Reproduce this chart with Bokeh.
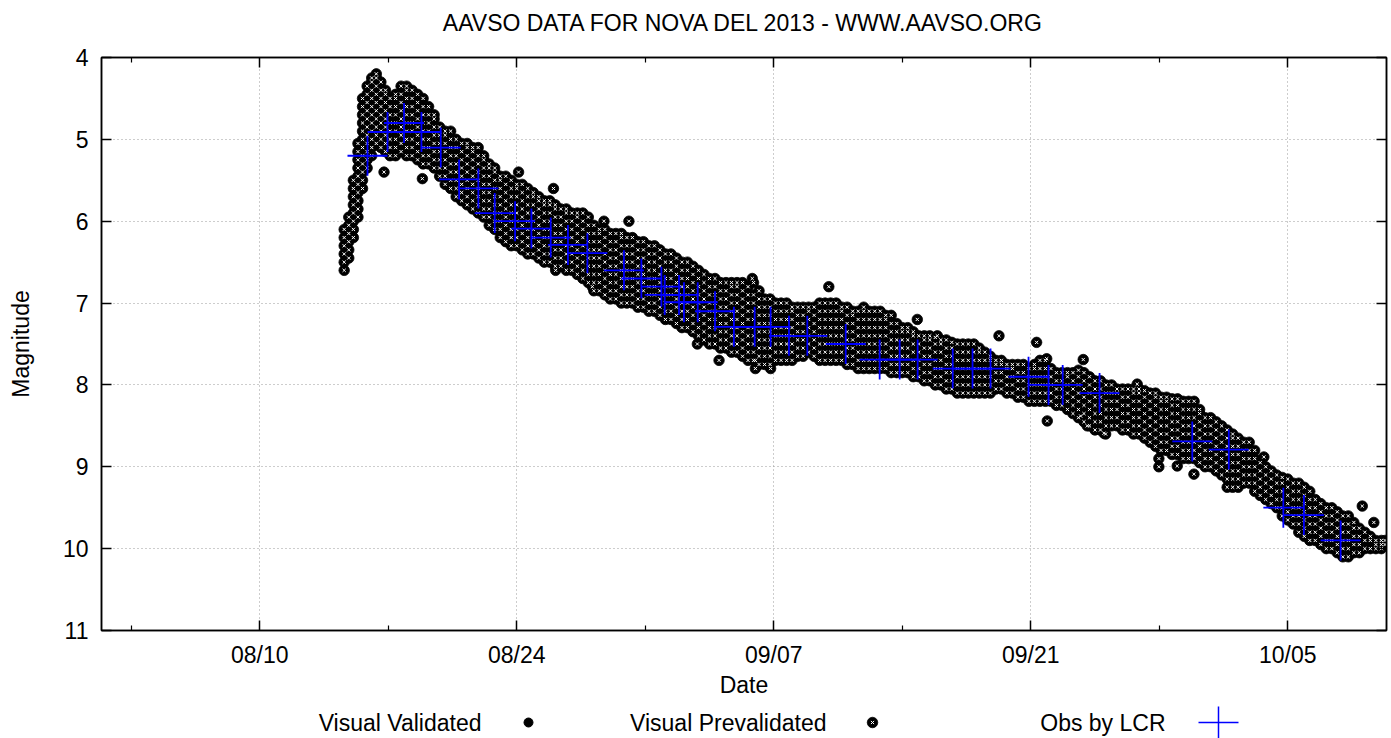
from datetime import datetime, timedelta
import numpy as np
from bokeh.plotting import figure
from bokeh.models import (Range1d, FixedTicker, DatetimeTickFormatter, LinearAxis,
                          DatetimeAxis, ColumnDataSource, CustomJSTickFormatter)
from bokeh.layouts import column
from bokeh.embed import file_html
from bokeh.resources import INLINE
from bokeh.core.properties import value

TITLE = "AAVSO DATA FOR NOVA DEL 2013 - WWW.AAVSO.ORG"
X_LABEL = "Date"
Y_LABEL = "Magnitude"
LEGEND_LABELS = ["Visual Validated", "Visual Prevalidated", "Obs by LCR"]

# Times are "day of August 2013" (Aug 10 00:00 UT = 10.0, Sep 1 = 32.0, Oct 1 = 62.0)
x_tick_days = [10, 24, 38, 52, 66]          # 08/10 08/24 09/07 09/21 10/05
x_minor_days = [3, 17, 31, 45, 59]
y_ticks = [4, 5, 6, 7, 8, 9, 10, 11]
x_view = [1.38, 71.38]
y_view = [11, 4]

# Visual Validated (no points visible in the chart)
vv_day = []
vv_mag = []

# Visual Prevalidated: nightly stacks of estimates
vp_day = [14.6, 14.85, 15.1, 15.35, 15.6, 15.85, 16.1, 16.35, 16.6, 16.85, 17.1, 17.4, 17.7, 18.0,
          18.3, 18.6, 18.9, 19.2, 19.5, 19.8, 20.1, 20.4, 20.7, 21.0, 21.3, 21.6, 21.9, 22.2,
          22.5, 22.8, 23.1, 23.4, 23.7, 24.0, 24.3, 24.6, 24.9, 25.2, 25.5, 25.8, 26.1, 26.4,
          26.7, 27.0, 27.3, 27.6, 27.9, 28.2, 28.5, 28.8, 29.1, 29.4, 29.7, 30.0, 30.3, 30.6,
          30.9, 31.2, 31.5, 31.8, 32.1, 32.4, 32.7, 33.0, 33.3, 33.6, 33.9, 34.2, 34.5, 34.8,
          35.1, 35.4, 35.7, 36.0, 36.3, 36.6, 36.9, 37.2, 37.5, 37.8, 38.1, 38.4, 38.7, 39.0,
          39.3, 39.6, 39.9, 40.2, 40.5, 40.8, 41.1, 41.4, 41.7, 42.0, 42.3, 42.6, 42.9, 43.2,
          43.5, 43.8, 44.1, 44.4, 44.7, 45.0, 45.3, 45.6, 45.9, 46.2, 46.5, 46.8, 47.1, 47.4,
          47.7, 48.0, 48.3, 48.6, 48.9, 49.2, 49.5, 49.8, 50.1, 50.4, 50.7, 51.0, 51.3, 51.6,
          51.9, 52.2, 52.5, 52.8, 53.1, 53.4, 53.7, 54.0, 54.3, 54.6, 54.9, 55.2, 55.5, 55.8,
          56.1, 56.4, 56.7, 57.0, 57.3, 57.6, 57.9, 58.2, 58.5, 58.8, 59.1, 59.4, 59.7, 60.0,
          60.3, 60.6, 60.9, 61.2, 61.5, 61.8, 62.1, 62.4, 62.7, 63.0, 63.3, 63.6, 63.9, 64.2,
          64.5, 64.8, 65.1, 65.4, 65.7, 66.0, 66.3, 66.6, 66.9, 67.2, 67.5, 67.8, 68.1, 68.4,
          68.7, 69.0, 69.3, 69.6, 69.9, 70.2, 70.5, 70.8, 71.1, 71.3]
vp_mag = [
    [6.6, 6.5, 6.4, 6.3, 6.2, 6.1],
    [6.45, 6.35, 6.25, 6.15, 6.05, 5.95],
    [6.2, 6.1, 6.0, 5.9, 5.8, 5.7, 5.6, 5.5],
    [5.95, 5.85, 5.75, 5.65, 5.55, 5.45, 5.35, 5.25, 5.15, 5.05],
    [5.6, 5.5, 5.4, 5.3, 5.2, 5.1, 5.0, 4.9, 4.8, 4.7, 4.6, 4.5],
    [5.35, 5.25, 5.15, 5.05, 4.95, 4.85, 4.75, 4.65, 4.55, 4.45, 4.35],
    [5.2, 5.1, 5.0, 4.9, 4.8, 4.7, 4.6, 4.5, 4.4, 4.3, 4.25],
    [5.05, 4.95, 4.85, 4.75, 4.65, 4.55, 4.45, 4.35, 4.25, 4.2],
    [5.1, 5.0, 4.9, 4.8, 4.7, 4.6, 4.5, 4.4, 4.3],
    [5.15, 5.05, 4.95, 4.85, 4.75, 4.65, 4.55, 4.45, 4.4],
    [5.2, 5.1, 5.0, 4.9, 4.8, 4.7, 4.6, 4.5],
    [5.2, 5.1, 5.0, 4.9, 4.8, 4.7, 4.6, 4.5, 4.45],
    [5.15, 5.05, 4.95, 4.85, 4.75, 4.65, 4.55, 4.45, 4.35],
    [5.2, 5.1, 5.0, 4.9, 4.8, 4.7, 4.6, 4.5, 4.4, 4.35],
    [5.2, 5.1, 5.0, 4.9, 4.8, 4.7, 4.6, 4.5, 4.4],
    [5.25, 5.15, 5.05, 4.95, 4.85, 4.75, 4.65, 4.55, 4.45],
    [5.3, 5.2, 5.1, 5.0, 4.9, 4.8, 4.7, 4.6, 4.5],
    [5.3, 5.2, 5.1, 5.0, 4.9, 4.8, 4.7, 4.6],
    [5.35, 5.25, 5.15, 5.05, 4.95, 4.85, 4.75, 4.7],
    [5.45, 5.35, 5.25, 5.15, 5.05, 4.95, 4.85],
    [5.55, 5.45, 5.35, 5.25, 5.15, 5.05, 4.95, 4.9],
    [5.6, 5.5, 5.4, 5.3, 5.2, 5.1, 5.0, 4.9],
    [5.7, 5.6, 5.5, 5.4, 5.3, 5.2, 5.1, 5.0],
    [5.75, 5.65, 5.55, 5.45, 5.35, 5.25, 5.15, 5.05],
    [5.8, 5.7, 5.6, 5.5, 5.4, 5.3, 5.2, 5.1, 5.05],
    [5.85, 5.75, 5.65, 5.55, 5.45, 5.35, 5.25, 5.15, 5.1],
    [5.9, 5.8, 5.7, 5.6, 5.5, 5.4, 5.3, 5.2, 5.1],
    [5.95, 5.85, 5.75, 5.65, 5.55, 5.45, 5.35, 5.25, 5.2],
    [6.05, 5.95, 5.85, 5.75, 5.65, 5.55, 5.45, 5.35, 5.3],
    [6.1, 6.0, 5.9, 5.8, 5.7, 5.6, 5.5, 5.4, 5.35],
    [6.2, 6.1, 6.0, 5.9, 5.8, 5.7, 5.6, 5.5, 5.45],
    [6.25, 6.15, 6.05, 5.95, 5.85, 5.75, 5.65, 5.55, 5.45],
    [6.3, 6.2, 6.1, 6.0, 5.9, 5.8, 5.7, 5.6, 5.5],
    [6.3, 6.2, 6.1, 6.0, 5.9, 5.8, 5.7, 5.6, 5.55],
    [6.35, 6.25, 6.15, 6.05, 5.95, 5.85, 5.75, 5.65, 5.55],
    [6.4, 6.3, 6.2, 6.1, 6.0, 5.9, 5.8, 5.7, 5.6],
    [6.4, 6.3, 6.2, 6.1, 6.0, 5.9, 5.8, 5.7, 5.65],
    [6.45, 6.35, 6.25, 6.15, 6.05, 5.95, 5.85, 5.75, 5.7],
    [6.5, 6.4, 6.3, 6.2, 6.1, 6.0, 5.9, 5.8, 5.75],
    [6.5, 6.4, 6.3, 6.2, 6.1, 6.0, 5.9, 5.8, 5.75],
    [6.55, 6.45, 6.35, 6.25, 6.15, 6.05, 5.95, 5.85, 5.8],
    [6.55, 6.45, 6.35, 6.25, 6.15, 6.05, 5.95, 5.85],
    [6.6, 6.5, 6.4, 6.3, 6.2, 6.1, 6.0, 5.9, 5.85],
    [6.6, 6.5, 6.4, 6.3, 6.2, 6.1, 6.0, 5.9],
    [6.65, 6.55, 6.45, 6.35, 6.25, 6.15, 6.05, 5.95, 5.9],
    [6.7, 6.6, 6.5, 6.4, 6.3, 6.2, 6.1, 6.0, 5.9],
    [6.75, 6.65, 6.55, 6.45, 6.35, 6.25, 6.15, 6.05, 5.95],
    [6.85, 6.75, 6.65, 6.55, 6.45, 6.35, 6.25, 6.15, 6.05],
    [6.85, 6.75, 6.65, 6.55, 6.45, 6.35, 6.25, 6.15, 6.1],
    [6.9, 6.8, 6.7, 6.6, 6.5, 6.4, 6.3, 6.2, 6.1],
    [6.95, 6.85, 6.75, 6.65, 6.55, 6.45, 6.35, 6.25, 6.15],
    [6.95, 6.85, 6.75, 6.65, 6.55, 6.45, 6.35, 6.25, 6.15],
    [7.0, 6.9, 6.8, 6.7, 6.6, 6.5, 6.4, 6.3, 6.2, 6.15],
    [7.0, 6.9, 6.8, 6.7, 6.6, 6.5, 6.4, 6.3, 6.2],
    [7.0, 6.9, 6.8, 6.7, 6.6, 6.5, 6.4, 6.3, 6.2],
    [7.05, 6.95, 6.85, 6.75, 6.65, 6.55, 6.45, 6.35, 6.25],
    [7.05, 6.95, 6.85, 6.75, 6.65, 6.55, 6.45, 6.35, 6.25],
    [7.1, 7.0, 6.9, 6.8, 6.7, 6.6, 6.5, 6.4, 6.3],
    [7.1, 7.0, 6.9, 6.8, 6.7, 6.6, 6.5, 6.4, 6.3],
    [7.15, 7.05, 6.95, 6.85, 6.75, 6.65, 6.55, 6.45, 6.35],
    [7.2, 7.1, 7.0, 6.9, 6.8, 6.7, 6.6, 6.5, 6.4],
    [7.2, 7.1, 7.0, 6.9, 6.8, 6.7, 6.6, 6.5, 6.4],
    [7.25, 7.15, 7.05, 6.95, 6.85, 6.75, 6.65, 6.55, 6.45],
    [7.3, 7.2, 7.1, 7.0, 6.9, 6.8, 6.7, 6.6, 6.5],
    [7.3, 7.2, 7.1, 7.0, 6.9, 6.8, 6.7, 6.6, 6.5],
    [7.35, 7.25, 7.15, 7.05, 6.95, 6.85, 6.75, 6.65, 6.55],
    [7.4, 7.3, 7.2, 7.1, 7.0, 6.9, 6.8, 6.7, 6.6],
    [7.45, 7.35, 7.25, 7.15, 7.05, 6.95, 6.85, 6.75, 6.65],
    [7.5, 7.4, 7.3, 7.2, 7.1, 7.0, 6.9, 6.8, 6.7],
    [7.5, 7.4, 7.3, 7.2, 7.1, 7.0, 6.9, 6.8, 6.7],
    [7.55, 7.45, 7.35, 7.25, 7.15, 7.05, 6.95, 6.85, 6.75],
    [7.55, 7.45, 7.35, 7.25, 7.15, 7.05, 6.95, 6.85, 6.75],
    [7.6, 7.5, 7.4, 7.3, 7.2, 7.1, 7.0, 6.9, 6.8, 6.75],
    [7.6, 7.5, 7.4, 7.3, 7.2, 7.1, 7.0, 6.9, 6.8, 6.75],
    [7.65, 7.55, 7.45, 7.35, 7.25, 7.15, 7.05, 6.95, 6.85, 6.75],
    [7.7, 7.6, 7.5, 7.4, 7.3, 7.2, 7.1, 7.0, 6.9, 6.8],
    [7.7, 7.6, 7.5, 7.4, 7.3, 7.2, 7.1, 7.0, 6.9, 6.75],
    [7.75, 7.65, 7.55, 7.45, 7.35, 7.25, 7.15, 7.05, 6.95, 6.85],
    [7.75, 7.65, 7.55, 7.45, 7.35, 7.25, 7.15, 7.05, 6.95],
    [7.75, 7.65, 7.55, 7.45, 7.35, 7.25, 7.15, 7.05, 6.95],
    [7.7, 7.6, 7.5, 7.4, 7.3, 7.2, 7.1, 7.0],
    [7.7, 7.6, 7.5, 7.4, 7.3, 7.2, 7.1, 7.0],
    [7.7, 7.6, 7.5, 7.4, 7.3, 7.2, 7.1, 7.0],
    [7.7, 7.6, 7.5, 7.4, 7.3, 7.2, 7.1, 7.05],
    [7.65, 7.55, 7.45, 7.35, 7.25, 7.15, 7.05],
    [7.65, 7.55, 7.45, 7.35, 7.25, 7.15, 7.05],
    [7.6, 7.5, 7.4, 7.3, 7.2, 7.1, 7.05],
    [7.65, 7.55, 7.45, 7.35, 7.25, 7.15, 7.05],
    [7.7, 7.6, 7.5, 7.4, 7.3, 7.2, 7.1, 7.0],
    [7.7, 7.6, 7.5, 7.4, 7.3, 7.2, 7.1, 7.0],
    [7.7, 7.6, 7.5, 7.4, 7.3, 7.2, 7.1, 7.0],
    [7.7, 7.6, 7.5, 7.4, 7.3, 7.2, 7.1, 7.0],
    [7.7, 7.6, 7.5, 7.4, 7.3, 7.2, 7.1, 7.05],
    [7.75, 7.65, 7.55, 7.45, 7.35, 7.25, 7.15, 7.05],
    [7.75, 7.65, 7.55, 7.45, 7.35, 7.25, 7.15, 7.1],
    [7.8, 7.7, 7.6, 7.5, 7.4, 7.3, 7.2, 7.1],
    [7.8, 7.7, 7.6, 7.5, 7.4, 7.3, 7.2, 7.1, 7.05],
    [7.8, 7.7, 7.6, 7.5, 7.4, 7.3, 7.2, 7.1],
    [7.8, 7.7, 7.6, 7.5, 7.4, 7.3, 7.2, 7.1],
    [7.8, 7.7, 7.6, 7.5, 7.4, 7.3, 7.2, 7.1],
    [7.8, 7.7, 7.6, 7.5, 7.4, 7.3, 7.2, 7.15],
    [7.85, 7.75, 7.65, 7.55, 7.45, 7.35, 7.25, 7.15],
    [7.85, 7.75, 7.65, 7.55, 7.45, 7.35, 7.25],
    [7.85, 7.75, 7.65, 7.55, 7.45, 7.35, 7.3],
    [7.85, 7.75, 7.65, 7.55, 7.45, 7.35, 7.3],
    [7.9, 7.8, 7.7, 7.6, 7.5, 7.4, 7.35],
    [7.9, 7.8, 7.7, 7.6, 7.5, 7.4],
    [7.95, 7.85, 7.75, 7.65, 7.55, 7.45, 7.4],
    [7.95, 7.85, 7.75, 7.65, 7.55, 7.45, 7.4],
    [8.0, 7.9, 7.8, 7.7, 7.6, 7.5, 7.42],
    [8.0, 7.9, 7.8, 7.7, 7.6, 7.5, 7.45],
    [8.05, 7.95, 7.85, 7.75, 7.65, 7.55, 7.45],
    [8.05, 7.95, 7.85, 7.75, 7.65, 7.55, 7.48],
    [8.1, 8.0, 7.9, 7.8, 7.7, 7.6, 7.5],
    [8.1, 8.0, 7.9, 7.8, 7.7, 7.6, 7.5],
    [8.1, 8.0, 7.9, 7.8, 7.7, 7.6, 7.5],
    [8.1, 8.0, 7.9, 7.8, 7.7, 7.6, 7.5],
    [8.1, 8.0, 7.9, 7.8, 7.7, 7.6, 7.55],
    [8.1, 8.0, 7.9, 7.8, 7.7, 7.6],
    [8.1, 8.0, 7.9, 7.8, 7.7, 7.65],
    [8.05, 7.95, 7.85, 7.75, 7.7],
    [8.05, 7.95, 7.85, 7.75, 7.7],
    [8.1, 8.0, 7.9, 7.8, 7.75],
    [8.1, 8.0, 7.9, 7.8, 7.75],
    [8.15, 8.05, 7.95, 7.85, 7.75],
    [8.15, 8.05, 7.95, 7.85, 7.75],
    [8.2, 8.1, 8.0, 7.9, 7.8],
    [8.2, 8.1, 8.0, 7.9, 7.8, 7.75],
    [8.2, 8.1, 8.0, 7.9, 7.8, 7.7],
    [8.2, 8.1, 8.0, 7.9, 7.8, 7.7],
    [8.2, 8.1, 8.0, 7.9, 7.8],
    [8.25, 8.15, 8.05, 7.95, 7.85],
    [8.25, 8.15, 8.05, 7.95, 7.85],
    [8.3, 8.2, 8.1, 8.0, 7.9, 7.85],
    [8.35, 8.25, 8.15, 8.05, 7.95, 7.85],
    [8.4, 8.3, 8.2, 8.1, 8.0, 7.9, 7.82],
    [8.45, 8.35, 8.25, 8.15, 8.05, 7.95, 7.85],
    [8.5, 8.4, 8.3, 8.2, 8.1, 8.0, 7.9],
    [8.55, 8.45, 8.35, 8.25, 8.15, 8.05, 7.95],
    [8.55, 8.45, 8.35, 8.25, 8.15, 8.05, 7.95],
    [8.5, 8.4, 8.3, 8.2, 8.1, 8.0],
    [8.5, 8.4, 8.3, 8.2, 8.1, 8.0],
    [8.5, 8.4, 8.3, 8.2, 8.1, 8.05],
    [8.55, 8.45, 8.35, 8.25, 8.15, 8.05],
    [8.55, 8.45, 8.35, 8.25, 8.15, 8.05],
    [8.6, 8.5, 8.4, 8.3, 8.2, 8.1, 8.05],
    [8.6, 8.5, 8.4, 8.3, 8.2, 8.1, 8.05],
    [8.65, 8.55, 8.45, 8.35, 8.25, 8.15, 8.07],
    [8.7, 8.6, 8.5, 8.4, 8.3, 8.2, 8.1],
    [8.75, 8.65, 8.55, 8.45, 8.35, 8.25, 8.15, 8.1],
    [8.8, 8.7, 8.6, 8.5, 8.4, 8.3, 8.2, 8.15],
    [8.8, 8.7, 8.6, 8.5, 8.4, 8.3, 8.2, 8.15],
    [8.85, 8.75, 8.65, 8.55, 8.45, 8.35, 8.25, 8.17],
    [8.85, 8.75, 8.65, 8.55, 8.45, 8.35, 8.25, 8.17],
    [8.9, 8.8, 8.7, 8.6, 8.5, 8.4, 8.3, 8.2],
    [8.9, 8.8, 8.7, 8.6, 8.5, 8.4, 8.3, 8.2],
    [8.9, 8.8, 8.7, 8.6, 8.5, 8.4, 8.3, 8.2],
    [8.95, 8.85, 8.75, 8.65, 8.55, 8.45, 8.35, 8.3],
    [9.0, 8.9, 8.8, 8.7, 8.6, 8.5, 8.4],
    [9.0, 8.9, 8.8, 8.7, 8.6, 8.5, 8.4],
    [9.05, 8.95, 8.85, 8.75, 8.65, 8.55, 8.45],
    [9.1, 9.0, 8.9, 8.8, 8.7, 8.6, 8.5],
    [9.25, 9.15, 9.05, 8.95, 8.85, 8.75, 8.65, 8.55],
    [9.25, 9.15, 9.05, 8.95, 8.85, 8.75, 8.65, 8.6],
    [9.25, 9.15, 9.05, 8.95, 8.85, 8.75, 8.65],
    [9.2, 9.1, 9.0, 8.9, 8.8, 8.7],
    [9.2, 9.1, 9.0, 8.9, 8.8, 8.7],
    [9.3, 9.2, 9.1, 9.0, 8.9, 8.8],
    [9.35, 9.25, 9.15, 9.05, 8.95],
    [9.4, 9.3, 9.2, 9.1, 9.0],
    [9.45, 9.35, 9.25, 9.15, 9.05],
    [9.5, 9.4, 9.3, 9.2, 9.1],
    [9.6, 9.5, 9.4, 9.3, 9.2, 9.13],
    [9.65, 9.55, 9.45, 9.35, 9.25, 9.15],
    [9.7, 9.6, 9.5, 9.4, 9.3, 9.2],
    [9.8, 9.7, 9.6, 9.5, 9.4, 9.3, 9.2],
    [9.85, 9.75, 9.65, 9.55, 9.45, 9.35, 9.25],
    [9.9, 9.8, 9.7, 9.6, 9.5, 9.4, 9.3],
    [9.9, 9.8, 9.7, 9.6, 9.5, 9.4],
    [9.95, 9.85, 9.75, 9.65, 9.55, 9.45],
    [10.0, 9.9, 9.8, 9.7, 9.6, 9.5],
    [10.0, 9.9, 9.8, 9.7, 9.6, 9.5],
    [10.05, 9.95, 9.85, 9.75, 9.65, 9.55],
    [10.1, 10.0, 9.9, 9.8, 9.7, 9.6],
    [10.1, 10.0, 9.9, 9.8, 9.7, 9.6],
    [10.05, 9.95, 9.85, 9.75, 9.68],
    [10.05, 9.95, 9.85, 9.75],
    [10.0, 9.9, 9.8],
    [10.0, 9.9, 9.85],
    [10.0, 9.95, 9.9],
    [10.0, 9.95, 9.9],
    [9.95, 9.9],
]

# Visual Prevalidated: isolated estimates away from the main band
vp_out_day = [16.77, 18.86, 24.1, 26.0, 26.12, 28.75, 30.11, 28.12, 33.84, 35.02, 37.0, 37.0,
              37.83, 36.83, 41.0, 45.82, 46.91, 50.27, 52.32, 52.87, 54.86, 52.9, 54.72, 55.08,
              55.99, 57.8, 58.98, 58.98, 59.98, 60.89, 56.08, 64.7, 70.06, 70.69]
vp_out_mag = [5.40, 5.48, 5.40, 5.60, 6.60, 6.00, 6.00, 6.80, 7.50, 7.70, 7.70, 7.80,
              7.80, 6.70, 6.80, 7.20, 7.40, 7.40, 7.48, 7.68, 7.69, 8.44, 8.38, 8.50,
              8.59, 7.99, 8.90, 9.00, 8.99, 9.09, 8.60, 8.88, 9.48, 9.68]

# Obs by LCR
lcr_day = [15.87, 16.96, 17.86, 18.81, 19.86, 20.86, 21.91, 22.80, 23.91, 24.80, 25.85, 26.79,
           27.85, 29.84, 30.79, 31.88, 32.06, 32.84, 33.11, 33.86, 34.80, 35.83, 36.96, 37.83,
           38.83, 39.83, 41.92, 43.77, 44.86, 45.84, 47.75, 48.83, 49.81, 51.88, 52.97, 53.74,
           55.75, 60.80, 62.79, 65.76, 66.88, 68.88]
lcr_mag = [5.20, 4.91, 4.80, 4.91, 5.10, 5.49, 5.60, 5.90, 6.00, 6.09, 6.20, 6.29,
           6.39, 6.60, 6.70, 6.80, 6.90, 6.90, 6.99, 6.99, 7.10, 7.29, 7.29, 7.29,
           7.40, 7.40, 7.50, 7.69, 7.69, 7.69, 7.80, 7.80, 7.80, 7.90, 8.00, 8.00,
           8.10, 8.69, 8.79, 9.50, 9.59, 9.90]


def to_dt(d):
    return datetime(2013, 8, 1) + timedelta(days=d - 1)


def to_ms(d):
    return (to_dt(d) - datetime(1970, 1, 1)).total_seconds() * 1000.0


def dt_array(days):
    return np.array([to_dt(d) for d in days], dtype="datetime64[ms]")


# flatten the nightly stacks
flat_day, flat_mag = [], []
for d, mags in zip(vp_day, vp_mag):
    for m in mags:
        flat_day.append(d)
        flat_mag.append(m)
flat_day += vp_out_day
flat_mag += vp_out_mag

FONT = "Liberation Sans"
FS = "23px"
W = 1391
BL, BR = 101, 5
TH = 40      # title strip height
KH = 32      # key strip height


def strip(height):
    f = figure(width=W, height=height, x_range=Range1d(BL, W - BR), y_range=Range1d(0, height),
               toolbar_location=None, output_backend="svg",
               min_border_left=BL, min_border_right=BR, min_border_top=0, min_border_bottom=0,
               x_axis_location=None, y_axis_location=None)
    f.grid.visible = False
    f.outline_line_color = None
    return f


# Title strip
head = strip(TH)
head.text(x=[(BL + W - BR) / 2], y=[TH - 22], text=[TITLE], text_align="center",
          text_baseline="middle", text_font=value(FONT), text_font_size=FS, text_color="black")

p = figure(width=W, height=706 - TH, x_axis_type="datetime",
           x_range=Range1d(to_dt(x_view[0]), to_dt(x_view[1])),
           y_range=Range1d(y_view[0], y_view[1]),
           toolbar_location=None, output_backend="svg",
           min_border_left=BL, min_border_right=BR, min_border_top=57 - TH, min_border_bottom=76)

x_ticker = FixedTicker(ticks=[to_ms(d) for d in x_tick_days],
                       minor_ticks=[to_ms(d) for d in x_minor_days])
y_ticker = FixedTicker(ticks=y_ticks, minor_ticks=[])
fmt = DatetimeTickFormatter(days="%m/%d", months="%m/%d", years="%m/%d", hours="%m/%d",
                            strip_leading_zeros=False)
blank = CustomJSTickFormatter(code="return '';")


def style_axis(ax):
    ax.axis_line_color = "black"
    ax.axis_line_width = 1.5
    ax.major_tick_line_color = "black"
    ax.major_tick_line_width = 1.5
    ax.minor_tick_line_color = "black"
    ax.minor_tick_line_width = 1.2
    ax.major_tick_in = 10
    ax.major_tick_out = 0
    ax.minor_tick_in = 5
    ax.minor_tick_out = 0
    ax.major_label_text_font = FONT
    ax.major_label_text_color = "black"
    ax.major_label_text_font_size = FS


xa = p.xaxis[0]
xa.ticker = x_ticker
xa.formatter = fmt
style_axis(xa)
xa.major_label_standoff = 11
xa.axis_label = X_LABEL
xa.axis_label_standoff = 1

ya = p.yaxis[0]
ya.ticker = y_ticker
style_axis(ya)
ya.major_label_standoff = 13
ya.axis_label = Y_LABEL
ya.axis_label_standoff = 26

for ax in (xa, ya):
    ax.axis_label_text_font = FONT
    ax.axis_label_text_font_size = FS
    ax.axis_label_text_font_style = "normal"
    ax.axis_label_text_color = "black"

top_ax = DatetimeAxis(ticker=x_ticker, formatter=blank)
style_axis(top_ax)
top_ax.major_label_standoff = 0
p.add_layout(top_ax, "above")
right_ax = LinearAxis(ticker=y_ticker, formatter=blank)
style_axis(right_ax)
right_ax.major_label_standoff = 0
p.add_layout(right_ax, "right")

p.xgrid.ticker = x_ticker
p.ygrid.ticker = y_ticker
for g in (p.xgrid, p.ygrid):
    g.grid_line_color = "#9a9a9a"
    g.grid_line_dash = "1 3"
    g.grid_line_width = 1
    g.minor_grid_line_color = None

p.outline_line_color = "black"
p.outline_line_width = 1.5
p.background_fill_color = "white"
p.border_fill_color = "white"

src_vv = ColumnDataSource(dict(t=dt_array(vv_day), m=np.array(vv_mag, dtype=float)))
src_vp = ColumnDataSource(dict(t=dt_array(flat_day), m=flat_mag))
src_lcr = ColumnDataSource(dict(t=dt_array(lcr_day), m=lcr_mag))

p.scatter(x="t", y="m", source=src_vv, marker="circle", size=8, color="black")
# prevalidated symbol: black disc with a small white diagonal cross
p.scatter(x="t", y="m", source=src_vp, marker="circle", size=10.5,
          line_color="black", line_width=0.8, fill_color="black")
p.scatter(x="t", y="m", source=src_vp, marker="x", size=4.5,
          line_color="white", line_width=1.0)
p.scatter(x="t", y="m", source=src_lcr, marker="cross", size=40,
          line_color="#0000ff", line_width=1.8)

# Key strip below the plot (label text followed by its symbol); x in page pixels
key = strip(KH)
key_text_x = [481, 826, 1165]
key_sym_x = [528, 872, 1218]
key_y = 16
key.text(x=key_text_x, y=[key_y] * 3, text=LEGEND_LABELS, text_align="right",
         text_baseline="middle", text_font=value(FONT), text_font_size=FS, text_color="black")
key.scatter(x=[key_sym_x[0]], y=[key_y], marker="circle", size=9, color="black")
key.scatter(x=[key_sym_x[1]], y=[key_y], marker="circle", size=10.5,
            line_color="black", line_width=0.8, fill_color="black")
key.scatter(x=[key_sym_x[1]], y=[key_y], marker="x", size=4.5,
            line_color="white", line_width=1.0)
key.scatter(x=[key_sym_x[2]], y=[key_y], marker="cross", size=40,
            line_color="#0000ff", line_width=1.5)

layout = column(head, p, key, spacing=0)
open("out.html", "w").write(file_html(layout, INLINE))
